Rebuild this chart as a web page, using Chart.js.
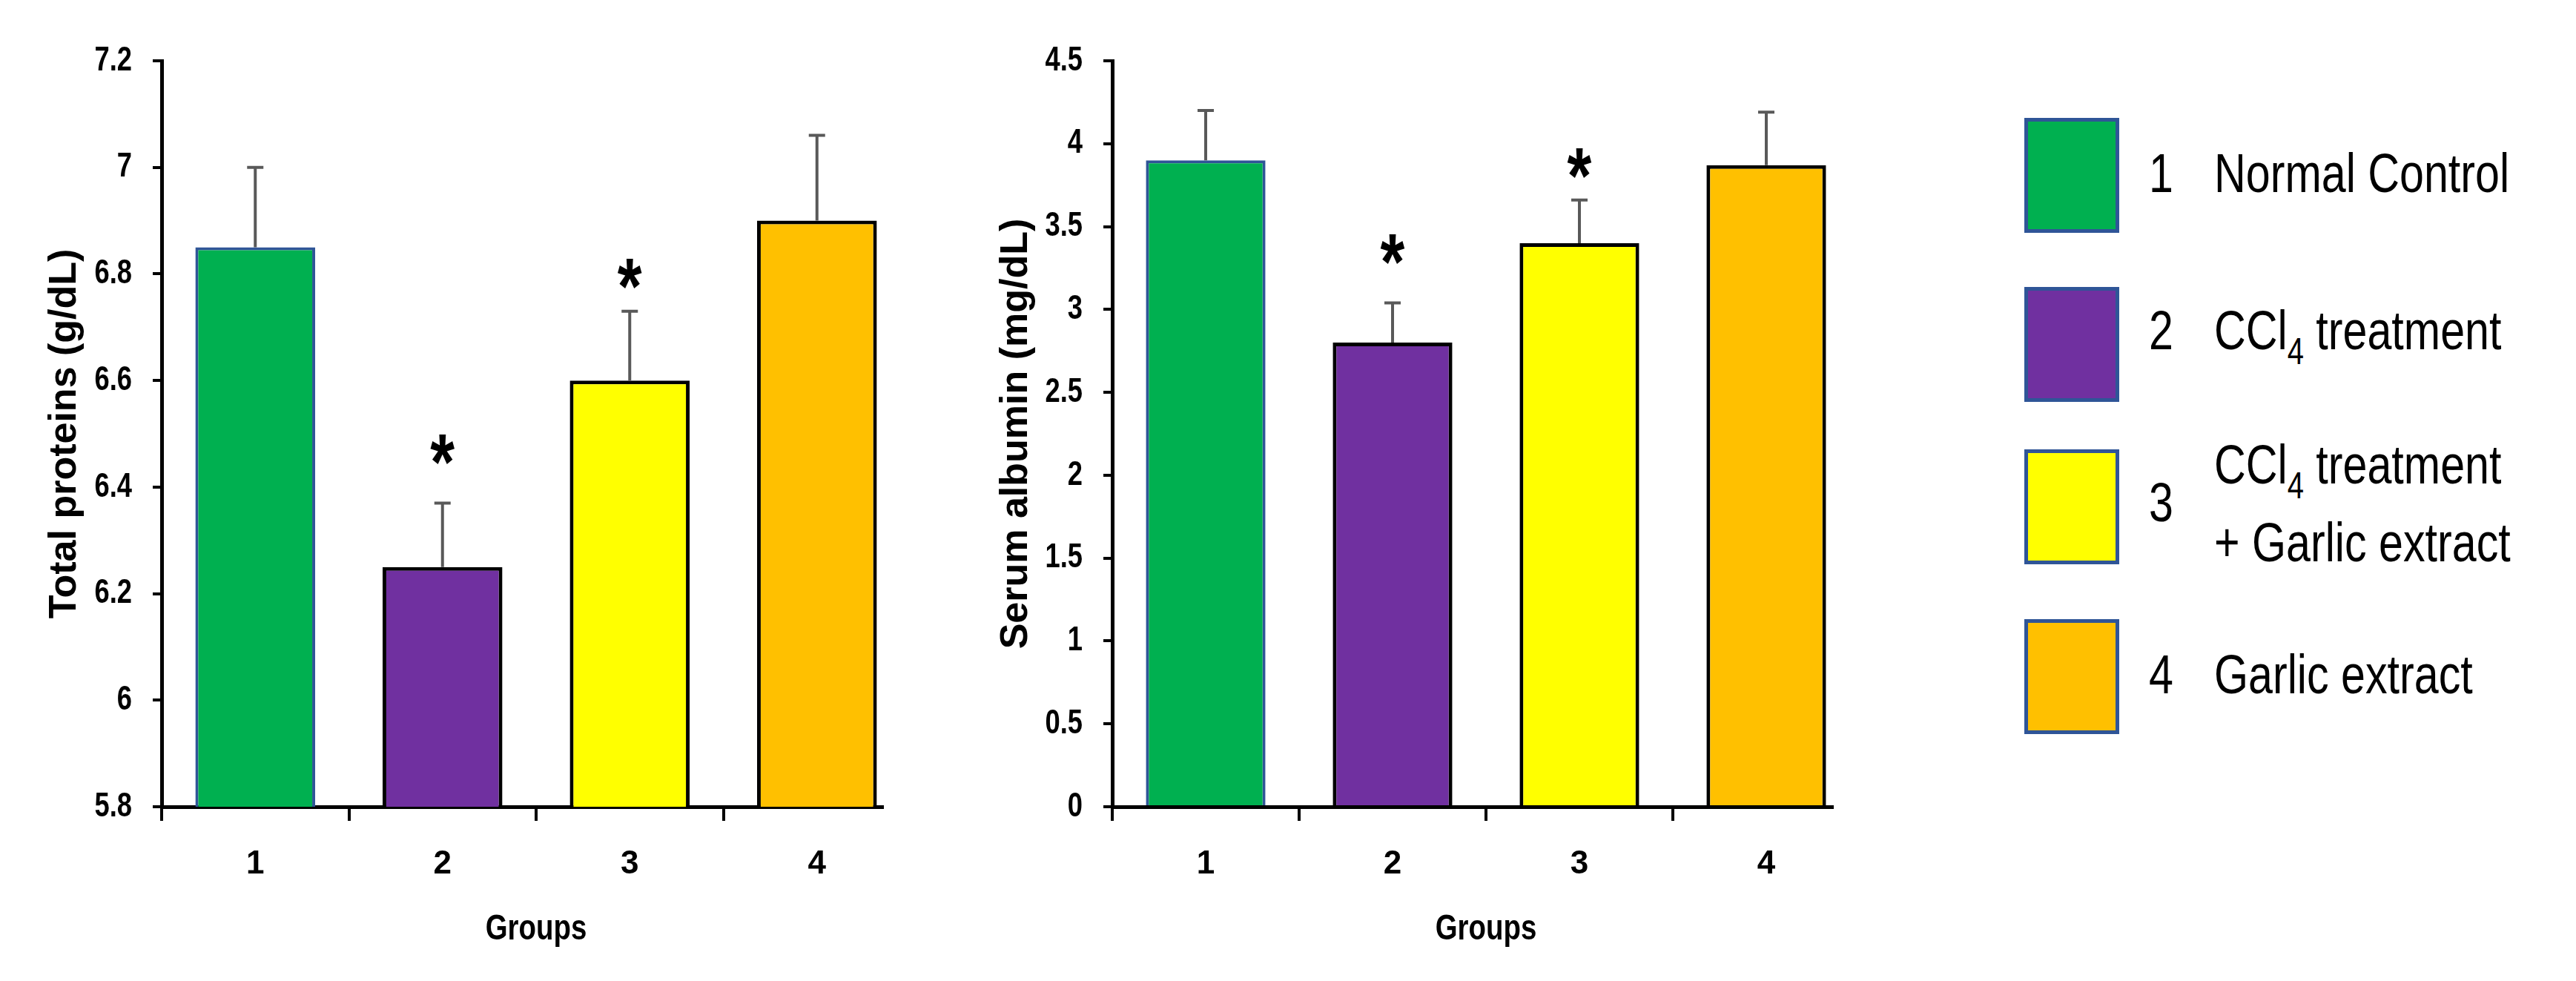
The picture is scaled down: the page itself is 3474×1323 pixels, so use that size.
<!DOCTYPE html>
<html>
<head>
<meta charset="utf-8">
<script src="https://cdn.jsdelivr.net/npm/chart.js@4.4.1/dist/chart.umd.min.js"></script>
<style>
  html, body { margin: 0; padding: 0; background: #fff; }
  body { width: 3474px; height: 1323px; position: relative; overflow: hidden; }
  .wrap { position: absolute; top: 0; height: 1323px; overflow: hidden; }
  .wrap canvas { position: absolute; left: 0; top: 0; }
  .box { position: absolute; left: 2730px; width: 128px; height: 155px; box-sizing: border-box; border: 5px solid #2F5597; }
  .lg { position: absolute; font-family: 'Liberation Sans', Arial, sans-serif; font-size: 74px; line-height: 74px; color: #000;
        white-space: nowrap; transform: scaleX(0.8); transform-origin: 0 0; }
  .lg sub { font-size: 50px; line-height: 0; vertical-align: -20px; }
</style>
</head>
<body>
<div class="wrap" style="left:0; width:1192px;"><canvas id="proteins" width="1260" height="1323"></canvas></div>
<div class="wrap" style="left:1230px; width:1243px;"><canvas id="albumin" width="1320" height="1323"></canvas></div>
<div id="legend"></div>

<script>
// values
const groups = ['1', '2', '3', '4'];
const groupColors = ['#00B050', '#7030A0', '#FFFF00', '#FFC000'];
const groupBorders = ['#2F5597', '#000000', '#000000', '#000000'];

const proteinMean = [6.85, 6.25, 6.6, 6.9];
const proteinErr = [0.15, 0.12, 0.13, 0.16];
const proteinStar = [null, 6.47, 6.8, null];
const proteinTicks = [5.8, 6, 6.2, 6.4, 6.6, 6.8, 7, 7.2];

const albuminMean = [3.9, 2.8, 3.4, 3.87];
const albuminErr = [0.3, 0.24, 0.26, 0.32];
const albuminStar = [null, 3.36, 3.88, null];
const albuminTicks = [0, 0.5, 1, 1.5, 2, 2.5, 3, 3.5, 4, 4.5];

const legendNums = ['1', '2', '3', '4'];
const legendLines = [
    ['Normal Control'],
    ['CCl<sub>4</sub> treatment'],
    ['CCl<sub>4</sub> treatment', '+ Garlic extract'],
    ['Garlic extract']
];

const FONT = "'Liberation Sans', Arial, sans-serif";

// upper error bars + significance stars
const errStars = {
    id: 'errStars',
    afterDatasetsDraw(chart, args, opts) {
        const ctx = chart.ctx;
        const y = chart.scales.y;
        const meta = chart.getDatasetMeta(0);
        const vals = chart.data.datasets[0].data;
        ctx.save();
        ctx.strokeStyle = '#595959';
        ctx.lineWidth = 4;
        meta.data.forEach((bar, i) => {
            const top = y.getPixelForValue(vals[i] + opts.err[i]);
            const base = y.getPixelForValue(vals[i]);
            ctx.beginPath();
            ctx.moveTo(bar.x, base);
            ctx.lineTo(bar.x, top);
            ctx.moveTo(bar.x - 11, top);
            ctx.lineTo(bar.x + 11, top);
            ctx.stroke();
        });
        ctx.fillStyle = '#000';
        ctx.font = 'bold 108px ' + FONT;
        ctx.textAlign = 'center';
        ctx.textBaseline = 'alphabetic';
        const m = ctx.measureText('*');
        const mid = (m.actualBoundingBoxAscent - m.actualBoundingBoxDescent) / 2;
        meta.data.forEach((bar, i) => {
            if (opts.star[i] == null) return;
            ctx.save();
            ctx.translate(bar.x, y.getPixelForValue(opts.star[i]) + mid);
            ctx.scale(0.78, 1);
            ctx.fillText('*', 0, 0);
            ctx.restore();
        });
        ctx.restore();
    }
};

// narrow a scale's text horizontally around an anchor point
function squeeze(scale, method, k, anchorX) {
    const key = '_sq_' + method;
    if (scale[key]) return;
    scale[key] = true;
    const orig = scale[method].bind(scale);
    scale[method] = (...a) => {
        const c = scale.ctx;
        const ax = anchorX(scale);
        c.save();
        c.translate(ax, 0);
        c.scale(k, 1);
        c.translate(-ax, 0);
        orig(...a);
        c.restore();
    };
}

function makeChart(id, vals, err, star, ticks, yTitle, yWidth, titlePad, padRight) {
    return new Chart(document.getElementById(id), {
        type: 'bar',
        data: {
            labels: groups,
            datasets: [{
                data: vals,
                backgroundColor: groupColors,
                borderColor: groupBorders,
                borderWidth: [4, 5, 5, 5],
                barPercentage: 0.64,
                categoryPercentage: 1
            }]
        },
        plugins: [errStars],
        options: {
            responsive: false,
            animation: false,
            layout: { padding: { top: 82, right: padRight, bottom: 0, left: 0 } },
            plugins: {
                legend: { display: false },
                tooltip: { enabled: false },
                errStars: { err: err, star: star }
            },
            scales: {
                x: {
                    offset: true,
                    grid: {
                        offset: true,
                        drawOnChartArea: false,
                        tickLength: 19,
                        lineWidth: 4,
                        color: c => c.index >= groups.length ? 'rgba(0,0,0,0)' : '#000'
                    },
                    border: { color: '#000', width: 5 },
                    ticks: { color: '#000', padding: 32, font: { family: FONT, size: 44, weight: 'bold' } },
                    title: {
                        display: true, text: 'Groups', color: '#000',
                        font: { family: FONT, size: 48, weight: 'bold' },
                        padding: { top: 0, bottom: 40 }
                    },
                    afterFit: s => {
                        s.height = 235;
                        squeeze(s, 'drawTitle', 0.8, sc => (sc.left + sc.right) / 2);
                    }
                },
                y: {
                    min: ticks[0],
                    max: ticks[ticks.length - 1],
                    afterBuildTicks: s => { s.ticks = ticks.map(v => ({ value: v })); },
                    grid: { drawOnChartArea: false, tickLength: 12, lineWidth: 4, color: '#000' },
                    border: { color: '#000', width: 5 },
                    ticks: {
                        color: '#000', padding: 28,
                        font: { family: FONT, size: 46, weight: 'bold' },
                        callback: v => String(v)
                    },
                    title: {
                        display: true, text: yTitle, color: '#000',
                        font: { family: FONT, size: 52, weight: 'bold' },
                        padding: { top: titlePad, bottom: 0 }
                    },
                    afterFit: s => {
                        s.width = yWidth;
                        squeeze(s, 'drawLabels', 0.79, sc => sc.right - 40);
                    }
                }
            }
        }
    });
}

makeChart('proteins', proteinMean, proteinErr, proteinStar, proteinTicks,
    'Total proteins (g/dL)', 218, 56, 32);
makeChart('albumin', albuminMean, albuminErr, albuminStar, albuminTicks,
    'Serum albumin (mg/dL)', 270, 109, 42);

// legend
const boxTops = [159, 387, 606, 835];
const numTops = [197, 409, 641, 873];
const lineTops = [[197], [409], [590, 695], [873]];
const legend = document.getElementById('legend');
legendNums.forEach((n, i) => {
    const b = document.createElement('div');
    b.className = 'box';
    b.style.top = boxTops[i] + 'px';
    b.style.background = groupColors[i];
    legend.appendChild(b);
    const num = document.createElement('div');
    num.className = 'lg';
    num.style.left = '2898px';
    num.style.top = numTops[i] + 'px';
    num.textContent = n;
    legend.appendChild(num);
    legendLines[i].forEach((t, j) => {
        const d = document.createElement('div');
        d.className = 'lg';
        d.style.left = '2986px';
        d.style.top = lineTops[i][j] + 'px';
        d.innerHTML = t;
        legend.appendChild(d);
    });
});
</script>
</body>
</html>
